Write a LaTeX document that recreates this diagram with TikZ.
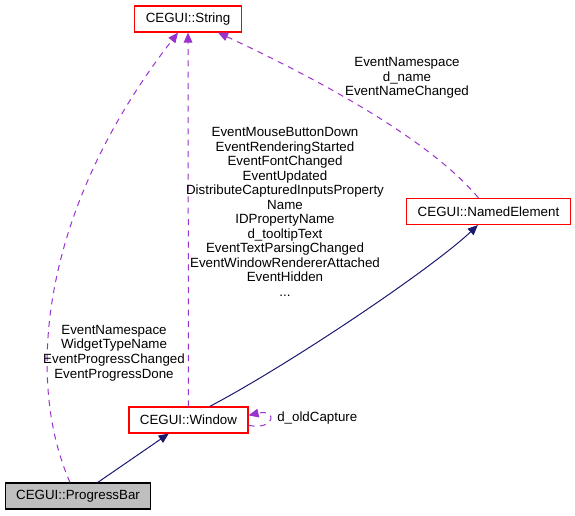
\documentclass[tikz,border=0pt]{standalone}
\usepackage{fontspec}
\setmainfont{Liberation Sans}
\usetikzlibrary{arrows.meta}

\definecolor{usagecol}{RGB}{154,50,205}
\definecolor{inheritcol}{RGB}{25,25,112}
\definecolor{boxred}{RGB}{255,0,0}

\begin{document}
\begin{tikzpicture}[
        x=0.75pt, y=-0.75pt,
        every node/.style={font=\fontsize{10}{10.9}\selectfont, inner sep=0pt},
        classbox/.style={draw=boxred, line width=0.9pt, fill=white, minimum height=19.5pt, inner xsep=8.2pt},
        thisbox/.style={draw=black, line width=0.9pt, fill=black!25, minimum height=19.5pt, inner xsep=8.2pt},
        inherit/.style={draw=inheritcol, line width=0.75pt, -{Triangle[length=7.5pt, width=6.5pt, fill=inheritcol]}},
        usage/.style={draw=usagecol, line width=0.75pt, dash pattern=on 4.5pt off 4pt, -{Triangle[length=7.5pt, width=6.5pt, fill=usagecol]}},
        memberlabel/.style={align=center}
        ]
        \useasboundingbox (0,0) rectangle (575,515);

        \node [classbox] (string) at (188,19) {CEGUI::String};
        \node [classbox] (namedelement) at (488.5,211.5) {CEGUI::NamedElement};
        \node [classbox] (window) at (188.5,420) {CEGUI::Window};
        \node [thisbox] (progressbar) at (78,496) {CEGUI::ProgressBar};

        % inheritance
        \draw[inherit] (progressbar) -- (window);
        \draw[inherit] ([xshift=16pt]window.north) .. controls (290,364) and (430,270) .. ([xshift=-8pt]namedelement.south);

        % usage
        \draw[usage] (window) -- (string);
        \draw[usage] ([xshift=-6pt]progressbar.north) .. controls (25,380) and (40,210) .. ([xshift=-7.5pt]string.south);
        \draw[usage] ([xshift=-7.5pt]namedelement.north) .. controls (430,140) and (320,80) .. ([xshift=22.5pt]string.south);
        \draw[usage] ([yshift=-4pt]window.east) .. controls +(20pt,-4pt) and +(22pt,5pt) .. ([yshift=3.5pt]window.east);

        \node [memberlabel] (windowlabel) at (285,212) {EventMouseButtonDown\\EventRenderingStarted\\EventFontChanged\\EventUpdated\\DistributeCapturedInputsProperty\\Name\\IDPropertyName\\d\_tooltipText\\EventTextParsingChanged\\EventWindowRendererAttached\\EventHidden\\...};
        \node [memberlabel] (namedlabel) at (407,78) {EventNamespace\\d\_name\\EventNameChanged};
        \node [memberlabel] (barlabel) at (114,353) {EventNamespace\\WidgetTypeName\\EventProgressChanged\\EventProgressDone};
        \node [anchor=west] (looplabel) at (277,418) {d\_oldCapture};
\end{tikzpicture}
\end{document}
